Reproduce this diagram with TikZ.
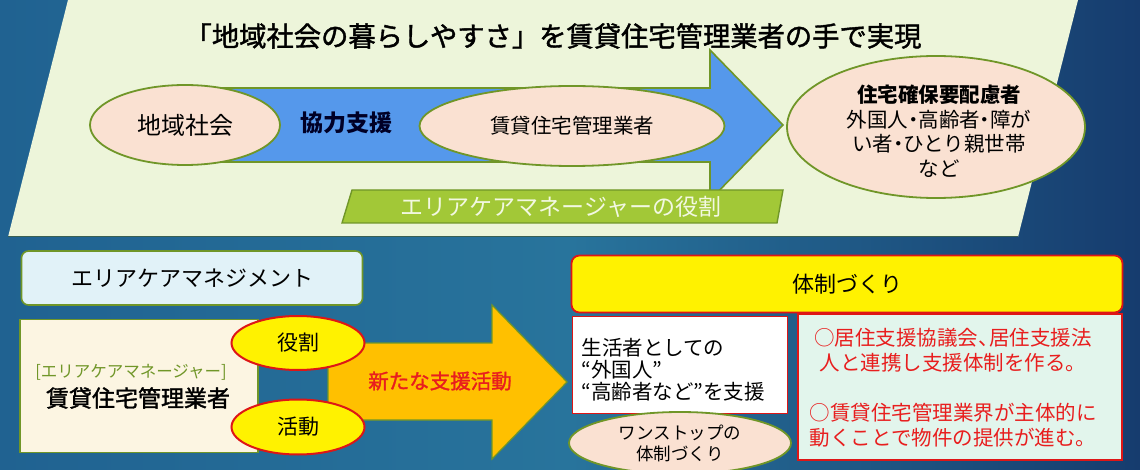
\documentclass[tikz,border=0pt]{standalone}
\usepackage{fontspec}
\setmainfont{Noto Sans CJK JP}
\newfontfamily\jpsemi{Noto Sans CJK JP}[FakeBold=1.5]
\usetikzlibrary{shapes.geometric}
\newdimen\myfsdim
\newcommand\myfs[1]{\myfsdim=#1pt\relax\fontsize{\myfsdim}{1.2\myfsdim}\selectfont}
\newcommand\nd{\makebox[0.5em][c]{・}}
\newcommand\tc{\makebox[0.55em][l]{、}}
\definecolor{bgA}{RGB}{32,98,145}
\definecolor{bgB}{RGB}{40,116,156}
\definecolor{bgC}{RGB}{22,60,110}
\definecolor{paper}{RGB}{237,245,218}
\definecolor{olive}{RGB}{112,150,40}
\definecolor{peach}{RGB}{250,225,210}
\definecolor{arrowblue}{RGB}{85,152,235}
\definecolor{banner}{RGB}{162,200,55}
\definecolor{bannertext}{RGB}{242,248,225}
\definecolor{paleblue}{RGB}{225,242,248}
\definecolor{cream}{RGB}{252,245,226}
\definecolor{redline}{RGB}{222,22,22}
\definecolor{redtext}{RGB}{232,30,30}
\definecolor{orangeA}{RGB}{255,192,0}
\definecolor{mint}{RGB}{226,245,236}
\tikzset{
  fs/.style={font=\myfs{#1}},
  peachell/.style={ellipse, draw=olive, line width=1.8pt, fill=peach, inner sep=0pt},
  yelell/.style={ellipse, draw=redline, line width=2pt, fill=yellow, inner sep=0pt},
  greenbox/.style={draw=olive, line width=1.6pt},
  redbox/.style={draw=redline, line width=1.8pt},
}
\begin{document}
\begin{tikzpicture}[x=1pt,y=-1pt]
\useasboundingbox (0,0) rectangle (1140,470);
% background
\shade[left color=bgA, right color=bgC, middle color=bgB] (0,0) rectangle (1140,470);
% top parallelogram
\fill[paper] (68,0) -- (1078,0) -- (1018,237) -- (8,237) -- cycle;
\draw[olive!40!bgC, line width=1pt] (8,237) -- (1018,237);
% title
\node[font=\jpsemi\myfs{27.3}] (title) at (553,36) {「地域社会の暮らしやすさ」を賃貸住宅管理業者の手で実現};
% blue arrow
\draw[fill=arrowblue, draw=olive, line width=1.6pt, line join=miter]
  (215,88) -- (710,88) -- (710,50) -- (783,125) -- (710,200) -- (710,162) -- (215,162) -- cycle;
% ellipses
\node[peachell, minimum width=190pt, minimum height=80pt, fs=24] (chiiki) at (185,125) {地域社会};
\node[font=\bfseries\myfs{23}, text=black!85!blue] (kyoryoku) at (346,123) {協力支援};
\node[peachell, minimum width=305pt, minimum height=80pt, fs=20.5] (chintai) at (572,126) {賃貸住宅管理業者};
\node[peachell, minimum width=298pt, minimum height=142pt] (jutaku) at (936,127) {};
\node[align=center, font=\fontsize{20.5pt}{24.5pt}\selectfont] (jutakutxt) at (939,131)
  {\textbf{住宅確保要配慮者}\\外国人\nd 高齢者\nd 障が\\い者\nd ひとり親世帯\\など};
% banner
\draw[fill=banner, draw=olive, line width=1.4pt] (352,190) -- (783,190) -- (777,223) -- (342,223) -- cycle;
\node[fs=23, text=bannertext] (role) at (561,207) {エリアケアマネージャーの役割};
% bottom left
\node[greenbox, fill=paleblue, rounded corners=7pt, minimum width=341pt, minimum height=54pt, fs=22] (acm) at (192,278) {エリアケアマネジメント};
% orange arrow
\draw[fill=orangeA, draw=olive, line width=1.2pt, line join=miter]
  (328,343) -- (492,343) -- (492,305) -- (567,382) -- (492,459) -- (492,420) -- (328,420) -- cycle;
\node[text=redtext, font=\jpsemi\myfs{20.5}] (shintana) at (440,381) {新たな支援活動};
\node[greenbox, fill=cream, minimum width=238pt, minimum height=133pt] (beige) at (139,386) {};
\node[fs=16.5, text=olive] (acmgr) at (131,372) {[エリアケアマネージャー]};
\node[font=\jpsemi\myfs{23}] (kanri) at (138,398) {賃貸住宅管理業者};
\node[yelell, minimum width=133pt, minimum height=54pt, fs=21] (yakuwari) at (298,343) {役割};
\node[yelell, minimum width=133pt, minimum height=55pt, fs=21] (katsudo) at (298,427) {活動};
% right side
\node[redbox, fill=yellow, rounded corners=8pt, minimum width=551pt, minimum height=57pt, fs=22] (taisei) at (847,284) {体制づくり};
\node[redbox, fill=white, minimum width=215pt, minimum height=97pt] (white) at (680,365) {};
\node[align=left, anchor=west, font=\fontsize{20.5pt}{22pt}\selectfont] (seikatsu) at (578,370) {生活者としての\\“外国人”\\“高齢者など”を支援};
\node[peachell, minimum width=222pt, minimum height=62pt, align=center, font=\fontsize{17.5pt}{21pt}\selectfont] (onestop) at (680,443) {ワンストップの\\体制づくり};
\node[redbox, fill=mint, minimum width=324pt, minimum height=146pt] (mintbox) at (960,387) {};
\node[text=redtext, align=center, font=\fontsize{20.5pt}{25pt}\selectfont] (redtxt) at (953,388)
  {○居住支援協議会\tc 居住支援法\\人と連携し支援体制を作る。\\[25pt]○賃貸住宅管理業界が主体的に\\動くことで物件の提供が進む。};
\end{tikzpicture}
\end{document}
